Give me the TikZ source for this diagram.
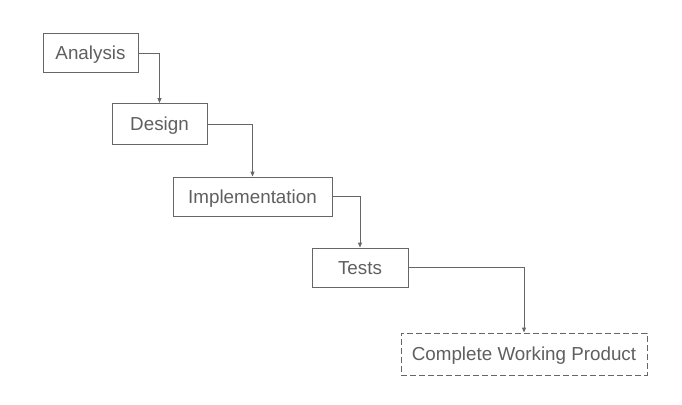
\documentclass[tikz,border=0pt]{standalone}
\usepackage{fontspec}
\setmainfont{Liberation Sans}
\usetikzlibrary{arrows.meta}
\definecolor{txt}{HTML}{5F5F5F}
\definecolor{ln}{HTML}{666666}
\begin{document}
\begin{tikzpicture}[x=1pt,y=-1pt,
  stepbox/.style={draw=ln, line width=0.9pt, text=txt, font=\fontsize{18.8}{20}\selectfont, inner sep=0pt, minimum height=39pt, text height=13.5pt, text depth=0pt},
  conn/.style={draw=ln, line width=0.9pt, -{Triangle[length=5pt,width=4pt]}}]
\useasboundingbox (0,0) rectangle (682,404);
\node[stepbox, minimum width=95pt] (a) at (90.5,53) {Analysis};
\node[stepbox, minimum width=95pt, minimum height=41pt] (d) at (159.5,124) {Design};
\node[stepbox, minimum width=159pt] (i) at (252.5,196.5) {Implementation};
\node[stepbox, minimum width=96pt] (t) at (360,267.5) {Tests};
\node[stepbox, dash pattern=on 6pt off 3pt, minimum width=246pt, minimum height=42pt] (c) at (524,354) {Complete Working Product};
\draw[conn] (a.east) -| (d.north);
\draw[conn] (d.east) -| (i.north);
\draw[conn] (i.east) -| (t.north);
\draw[conn] (t.east) -| (c.north);
\end{tikzpicture}
\end{document}
